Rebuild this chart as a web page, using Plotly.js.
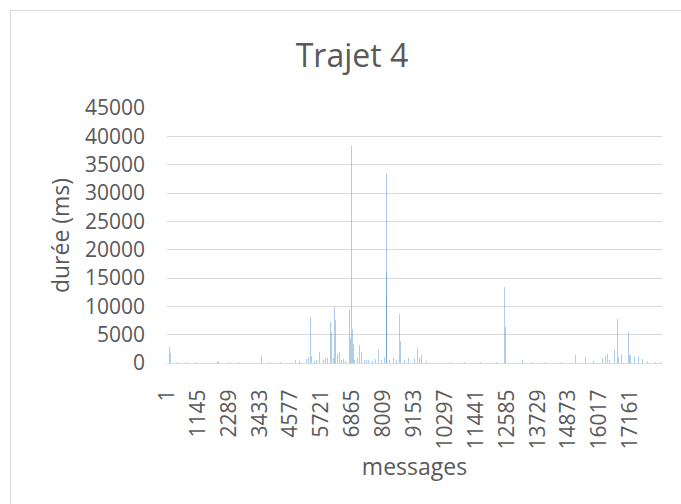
<!DOCTYPE html>
<html>
<head>
<meta charset="utf-8">
<script src="https://cdn.plot.ly/plotly-3.0.1.min.js"></script>
<style>
  html, body { margin: 0; padding: 0; background: #ffffff; }
  #wrap { position: relative; width: 681px; height: 504px; overflow: hidden; }
  #chart { position: absolute; left: 0; top: 0; width: 681px; height: 504px; }
  #frame { position: absolute; left: 10px; top: 10px; width: 720px; height: 560px;
           border-left: 1px solid #D9D9D9; border-top: 1px solid #D9D9D9; pointer-events: none; }
</style>
</head>
<body>
<div id="wrap">
  <div id="chart"></div>
  <div id="frame"></div>
</div>
<script>
// ---- data (message number, duration in ms) ----
const chartTitle = 'Trajet 4';
const xTitle = 'messages';
const yTitle = 'durée (ms)';
const messageCount = 18330;

const messages = [
  93, 115, 380, 720, 1100, 1860, 1900, 2300, 2650, 3000,
  3516, 3800, 4200, 4750, 4900, 5250, 5317, 5340, 5450, 5650,
  5800, 5947, 6000, 6058, 6080, 6110, 6206, 6225, 6258, 6317,
  6391, 6450, 6600, 6762, 6780, 6836, 6873, 6890, 7058, 7132,
  7206, 7300, 7466, 7600, 7836, 7950, 8058, 8120, 8132, 8145,
  8392, 8500, 8614, 8630, 8800, 9000, 9281, 9407, 9420, 9600,
  10000, 10500, 11000, 11600, 12200, 12504, 12520, 13149, 13500, 14000,
  14600, 15135, 15506, 15800, 16136, 16224, 16298, 16400, 16580, 16691,
  16710, 16828, 17099, 17120, 17161, 17321, 17469, 17595, 17800, 18100,
  18300, 5150, 5520, 5880, 6150, 6520, 6950, 7380, 7720, 8250,
  8950, 9150, 9350
];
const durations = [
  2750, 1700, 250, 200, 180, 400, 250, 200, 220, 180,
  1150, 200, 180, 500, 300, 1000, 8170, 1150, 400, 2000,
  500, 800, 600, 7170, 5400, 1650, 9940, 7640, 3300, 1600,
  1900, 600, 400, 9400, 4400, 38350, 6000, 3400, 800, 3150,
  2000, 500, 600, 400, 2400, 500, 1100, 12350, 33290, 16000,
  800, 600, 8580, 3800, 500, 600, 2600, 13350, 1470, 300,
  250, 200, 180, 200, 250, 13350, 6350, 500, 200, 180,
  200, 1470, 1000, 300, 800, 1150, 1650, 500, 2350, 7820,
  1000, 1650, 5530, 1500, 1350, 1050, 1150, 750, 300, 250,
  200, 700, 600, 900, 800, 700, 600, 500, 700, 600,
  800, 700, 900
];

const tickLabels = ['1','1145','2289','3433','4577','5721','6865','8009','9153',
  '10297','11441','12585','13729','14873','16017','17161'];
const yTicks = [0, 5000, 10000, 15000, 20000, 25000, 30000, 35000, 40000, 45000];

const textColor = '#595959';
const fontFamily = '"Open Sans", "Noto Sans", sans-serif';

const trace = {
  type: 'bar',
  x: messages,
  y: durations,
  width: 34,
  marker: { color: '#5B9BD5', opacity: 0.5, line: { width: 0 } },
  hoverinfo: 'x+y'
};

const layout = {
  width: 681,
  height: 504,
  margin: { l: 167, r: 19, t: 108, b: 141, pad: 0 },
  paper_bgcolor: '#ffffff',
  plot_bgcolor: '#ffffff',
  showlegend: false,
  barmode: 'overlay',
  bargap: 0,
  font: { family: fontFamily, color: textColor },
  title: {
    text: chartTitle,
    font: { family: fontFamily, size: 32, color: textColor },
    xref: 'container', yref: 'container',
    x: 352 / 681, xanchor: 'center',
    y: 1 - 56 / 504, yanchor: 'middle'
  },
  xaxis: {
    range: [0.5, messageCount + 0.5],
    tickmode: 'array',
    tickvals: tickLabels.map(Number),
    ticktext: tickLabels,
    tickangle: -90,
    tickfont: { family: fontFamily, size: 21, color: textColor },
    ticks: '',
    ticklabelstandoff: 17,
    showgrid: false,
    zeroline: false,
    showline: true,
    linecolor: '#D9D9D9',
    linewidth: 1,
    automargin: false,
    title: { text: xTitle, font: { family: fontFamily, size: 23, color: textColor }, standoff: 10 }
  },
  yaxis: {
    range: [0, 45000],
    tickmode: 'array',
    tickvals: yTicks,
    ticktext: yTicks.map(String),
    tickfont: { family: fontFamily, size: 21, color: textColor },
    ticks: '',
    ticklabelstandoff: 21,
    showgrid: true,
    gridcolor: '#D9D9D9',
    gridwidth: 1,
    zeroline: false,
    showline: false,
    automargin: false,
    title: { text: yTitle, font: { family: fontFamily, size: 23, color: textColor }, standoff: 8 }
  }
};

Plotly.newPlot('chart', [trace], layout, { staticPlot: true, displayModeBar: false });
</script>
</body>
</html>
